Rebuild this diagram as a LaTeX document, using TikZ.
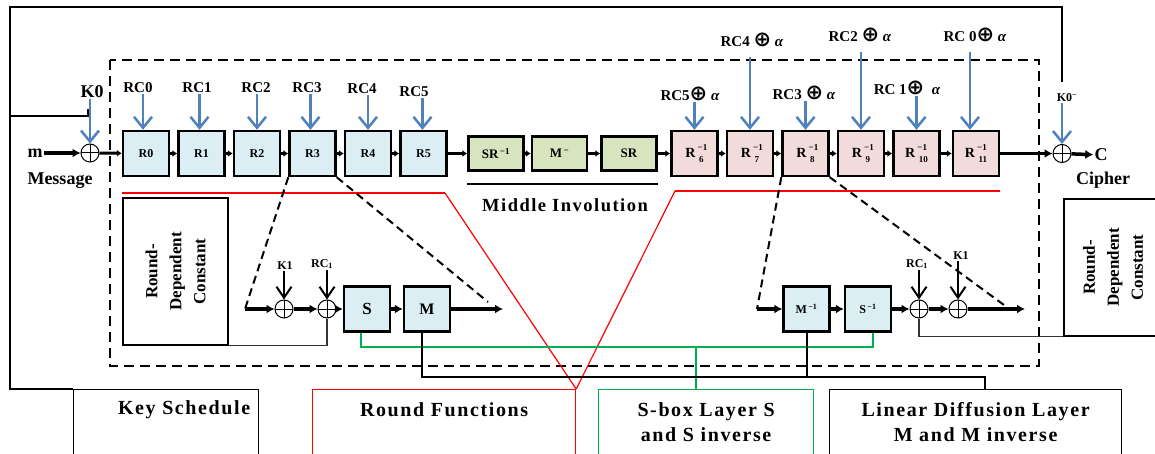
\documentclass[tikz,border=0pt]{standalone}
\usepackage{fontspec}
\setmainfont{Liberation Serif}
\newfontfamily\symfont{DejaVu Sans}
\usetikzlibrary{arrows.meta}

\definecolor{rbox}{HTML}{DAEEF3}
\definecolor{gbox}{HTML}{D7E4BD}
\definecolor{pbox}{HTML}{F2DCDB}
\definecolor{blarrow}{HTML}{4F81BD}
\definecolor{gline}{HTML}{00B050}
\newcommand{\xo}{{\symfont\fontsize{21}{21}\selectfont ⊕}}
\newcommand{\al}{\textit{α}}
\newcommand{\rinv}[1]{R\,\rlap{\raisebox{7pt}{\fontsize{9}{9}\selectfont −1}}\raisebox{-4.5pt}{\fontsize{9}{9}\selectfont\,#1}}

\begin{document}
\begin{tikzpicture}[
                    x=1pt, y=-1pt,
                    node distance=55.5pt,
                    >=latex,
                    lbl/.style={font=\fontsize{18}{20}\selectfont\bfseries, inner sep=1pt},
                    rclbl/.style={font=\fontsize{15}{17}\selectfont\bfseries, inner sep=1pt},
                    small/.style={font=\fontsize{12}{14}\selectfont\bfseries, inner sep=1pt},
                    rnd/.style={draw, line width=2.4pt, fill=rbox, minimum width=46pt, minimum height=45pt, inner sep=0pt, font=\fontsize{12}{12}\selectfont\bfseries},
                    inv/.style={rnd, fill=pbox, font=\fontsize{14}{14}\selectfont\bfseries},
                    mid/.style={rnd, fill=gbox, minimum width=55pt, minimum height=34pt, font=\fontsize{13}{13}\selectfont\bfseries},
                    xorop/.style={circle, draw, line width=1pt, minimum size=18pt, inner sep=0pt,
                        path picture={\draw[line width=1pt] (path picture bounding box.north) -- (path picture bounding box.south)
                                      (path picture bounding box.west) -- (path picture bounding box.east);}},
                    chain/.style={line width=3pt, -{Latex[length=5pt,width=7pt]}},
                    flow/.style={line width=3.5pt, -{Latex[length=8pt,width=9pt]}},
                    bluearr/.style={blarrow, line width=2.5pt, -{Straight Barb[length=11pt,width=18pt]}},
                    keyarr/.style={line width=2pt, -{Straight Barb[length=11pt,width=15pt]}},
                    keyline/.style={line width=2pt},
                    thinline/.style={line width=1.2pt, black!80},
                    dashline/.style={line width=2pt, dash pattern=on 8pt off 5pt},
                    grnline/.style={gline, line width=2pt},
                    busline/.style={line width=2pt},
                    redthick/.style={red, line width=2.5pt},
                    redthin/.style={red, line width=1.2pt},
                    plainbox/.style={draw, line width=1.2pt, inner sep=0pt},
                    rdctxt/.style={rotate=90, align=center, font=\fontsize{17}{24}\selectfont\bfseries},
                    botbox/.style={draw, line width=1.2pt, minimum height=90pt, anchor=north west, inner sep=0pt},
                    bottxt/.style={font=\fontsize{20}{25}\selectfont\bfseries\addfontfeature{LetterSpace=8}, align=center}
                    ]

    \useasboundingbox (0,0) rectangle (1155,454);
    \clip (0,0) rectangle (1155,454);

    % encryption rounds
    \node [xorop] (xin) at (90,153) {};
    \node [rnd] (r0) at (146,153.5) {R0};
    \node [rnd, right of = r0] (r1) {R1};
    \node [rnd, right of = r1] (r2) {R2};
    \node [rnd, right of = r2] (r3) {R3};
    \node [rnd, right of = r3] (r4) {R4};
    \node [rnd, right of = r4] (r5) {R5};

    \node [mid] (srinv) at (496,153.5) {SR\textsuperscript{\,−1}};
    \node [mid] (mmid) at (559.5,153.5) {M\textsuperscript{\,−}};
    \node [mid] (sr) at (629,153.5) {SR};

    \node [inv] (r6) at (694.5,153.5) {\rinv{6}};
    \node [inv, right of = r6] (r7) {\rinv{7}};
    \node [inv, right of = r7] (r8) {\rinv{8}};
    \node [inv, right of = r8] (r9) {\rinv{9}};
    \node [inv, right of = r9] (r10) {\rinv{10}};
    \node [inv, right of = r10, xshift=4pt] (r11) {\rinv{11}};
    \node [xorop] (xout) at (1062,153.5) {};

    \node [lbl] (msg) at (35,153) {m};
    \node [lbl] (msgtxt) at (60,181) {Message};
    \node [lbl] (cout) at (1101,155) {C};
    \node [lbl] (ciph) at (1103,180) {Cipher};
    \node [lbl] (k0) at (92,92) {K0};
    \node [small] (k0inv) at (1067,98) {K0\textsuperscript{−}};

    \node [rclbl] (rc0) at (138,88) {RC0};
    \node [rclbl] (rc1) at (197,88) {RC1};
    \node [rclbl] (rc2) at (256,88) {RC2};
    \node [rclbl] (rc3) at (307,88) {RC3};
    \node [rclbl] (rc4) at (362,89) {RC4};
    \node [rclbl] (rc5) at (414,92) {RC5};

    \node [rclbl] (rc5a) at (690,94) {RC5\xo\ \al};
    \node [rclbl] (rc4a) at (752,40) {RC4 \xo\ \al};
    \node [rclbl] (rc3a) at (804,93) {RC3 \xo\ \al};
    \node [rclbl] (rc2a) at (860,35) {RC2 \xo\ \al};
    \node [rclbl] (rc1a) at (907,88) {RC 1\xo\ \ \al};
    \node [rclbl] (rc0a) at (975,35) {RC 0\xo\ \al};

    \node [lbl, font=\fontsize{18.5}{20}\selectfont\bfseries\addfontfeature{LetterSpace=8}] (midtxt) at (565,205) {Middle Involution};

    % zoomed round and inverse round
    \node [plainbox, minimum width=105pt, minimum height=147pt] (rdcl) at (175.5,271.5) {};
    \node [rdctxt] (rdcltxt) at (rdcl) {Round-\\Dependent\\Constant};
    \coordinate (din) at (245,309);
    \node [xorop] (xk1) at (284,309) {};
    \node [xorop] (xrc1) at (327,309) {};
    \node [rnd, font=\fontsize{17}{17}\selectfont\bfseries] (sbx) at (367,309) {S};
    \node [rnd, font=\fontsize{16}{16}\selectfont\bfseries] (mbx) at (427,309) {M};
    \coordinate (dout) at (503,309);
    \coordinate (dend) at (488,302);
    \node [small] (k1l) at (285,266) {K1};
    \node [small] (rc1l) at (322,264) {RC\textsubscript{1}};

    \coordinate (din2) at (757,309);
    \node [rnd] (minv) at (806.5,309) {M\textsuperscript{\,−1}};
    \node [rnd] (sinv) at (868,309) {S\textsuperscript{\,−1}};
    \node [xorop] (xrc1b) at (919,309) {};
    \node [xorop] (xk1b) at (958,309) {};
    \coordinate (dout2) at (1025,309);
    \coordinate (dend2) at (1004,305);
    \node [small] (rc1r) at (917,264) {RC\textsubscript{1}};
    \node [small] (k1r) at (961,256) {K1};
    \node [plainbox, minimum width=98pt, minimum height=137pt] (rdcr) at (1113,267.5) {};
    \node [rdctxt] (rdcrtxt) at (rdcr) {Round-\\Dependent\\Constant};

    % legend boxes
    \node [botbox, minimum width=185pt] (ks) at (73,389) {};
    \node [bottxt] (kstxt) at ([xshift=18pt,yshift=-21pt]ks.north) {Key Schedule};
    \node [botbox, red, minimum width=263pt] (rf) at (312,389) {};
    \node [bottxt] (rftxt) at ([yshift=-21pt]rf.north) {Round Functions};
    \node [botbox, gline, minimum width=215pt] (sb) at (598,389) {};
    \node [bottxt] (sbtxt) at ([yshift=-33pt]sb.north) {S-box Layer S\\and S inverse};
    \node [botbox, minimum width=292pt] (ldl) at (829,389) {};
    \node [bottxt] (ldltxt) at ([yshift=-33pt]ldl.north) {Linear Diffusion Layer\\M and M inverse};

    \coordinate (kend) at (1062,82);
    \coordinate (kbranch) at (10,116);
    \coordinate (kzero) at (88,109);
    \coordinate (redl) at (445,193);
    \coordinate (redr) at (675,191);

    % frame
    \draw [line width=2.2pt, dash pattern=on 10pt off 6pt] (110,60) rectangle (1039,366);

    % key schedule
    \draw [keyline] (ks.north west) -| (10,7) -| (kend);
    \draw [keyline] (kbranch) -| (kzero);

    \draw [flow] (msg) -- (xin);
    \draw [chain] (xin) -- (r0);
    \draw [chain] (r0) -- (r1);
    \draw [chain] (r1) -- (r2);
    \draw [chain] (r2) -- (r3);
    \draw [chain] (r3) -- (r4);
    \draw [chain] (r4) -- (r5);
    \draw [chain] (r5) -- (srinv);
    \draw [chain] (srinv) -- (mmid);
    \draw [chain] (mmid) -- (sr);
    \draw [chain] (sr) -- (r6);
    \draw [chain] (r6) -- (r7);
    \draw [chain] (r7) -- (r8);
    \draw [chain] (r8) -- (r9);
    \draw [chain] (r9) -- (r10);
    \draw [chain] (r10) -- (r11);
    \draw [flow] (r11) -- (xout);
    \draw [flow] (xout) -- (cout);

    \draw [bluearr] (k0.south -| xin) -- (xin.north);
    \draw [bluearr] (k0inv.south -| xout) -- (xout.north);
    \draw [bluearr] (rc0.south -| r0) ++(-3,0) -- ([xshift=-3pt]r0.north);
    \draw [bluearr] (rc1.south -| r1) ++(-2,0) -- ([xshift=-2pt]r1.north);
    \draw [bluearr] (rc2.south -| r2) -- (r2.north);
    \draw [bluearr] (rc3.south -| r3) ++(-2,0) -- ([xshift=-2pt]r3.north);
    \draw [bluearr] (rc4.south -| r4) -- (r4.north);
    \draw [bluearr] (rc5.south -| r5) ++(-1,0) -- ([xshift=-1pt]r5.north);
    \draw [bluearr] (rc5a.south -| r6) -- (r6.north);
    \draw [bluearr, shorten <=9pt] (rc4a.south -| r7) -- (r7.north);
    \draw [bluearr] (rc3a.south -| r8) -- (r8.north);
    \draw [bluearr, shorten <=9pt] (rc2a.south -| r9) -- (r9.north);
    \draw [bluearr] (rc1a.south -| r10) -- (r10.north);
    \draw [bluearr, shorten <=9pt] (rc0a.south -| r11) ++(-6,0) -- ([xshift=-6pt]r11.north);

    \draw [line width=2pt] ([yshift=-12.5pt]srinv.south west) -- ([yshift=-12.5pt]sr.south east);

    \draw [redthick] (r0.south west |- redl) -- (redl);
    \draw [redthin] (redl) -- (rf.north east);
    \draw [redthick] (redr) -- (r11.south east |- redr);
    \draw [redthin] (redr) -- (rf.north east);

    \draw [dashline] (r3.south west) -- (din);
    \draw [dashline] (r3.south east) -- (dend);
    \draw [flow] (din) -- (xk1);
    \draw [flow] (xk1) -- (xrc1);
    \draw [flow] (xrc1) -- (sbx);
    \draw [flow] (sbx) -- (mbx);
    \draw [flow] (mbx) -- (dout);
    \draw [keyarr] (k1l.south -| xk1) -- (xk1.north);
    \draw [keyarr] (rc1l.south -| xrc1) -- (xrc1.north);
    \draw [thinline] (rdcl.south east) -| (xrc1.south);

    \draw [dashline] (r8.south west) -- (din2);
    \draw [dashline] (r8.south east) -- (dend2);
    \draw [flow] (din2) -- (minv);
    \draw [flow] (minv) -- (sinv);
    \draw [flow] (sinv) -- (xrc1b);
    \draw [flow] (xrc1b) -- (xk1b);
    \draw [flow] (xk1b) -- (dout2);
    \draw [keyarr] (rc1r.south -| xrc1b) -- (xrc1b.north);
    \draw [keyarr] (k1r.south -| xk1b) -- (xk1b.north);
    \draw [thinline] (xrc1b.south) |- (rdcr.south west);

    \draw [grnline] ([xshift=-6pt]sbx.south) -- ++(0,14.5) -| ([xshift=5pt]sinv.south);
    \draw [grnline] ([xshift=-10pt]sb.north) -- ++(0,-43);
    \draw [busline] ([xshift=-5pt]mbx.south) -- ++(0,44.5) -| ([xshift=9pt]ldl.north);
    \draw [busline] (minv.south) -- ++(0,44.5);

\end{tikzpicture}
\end{document}
